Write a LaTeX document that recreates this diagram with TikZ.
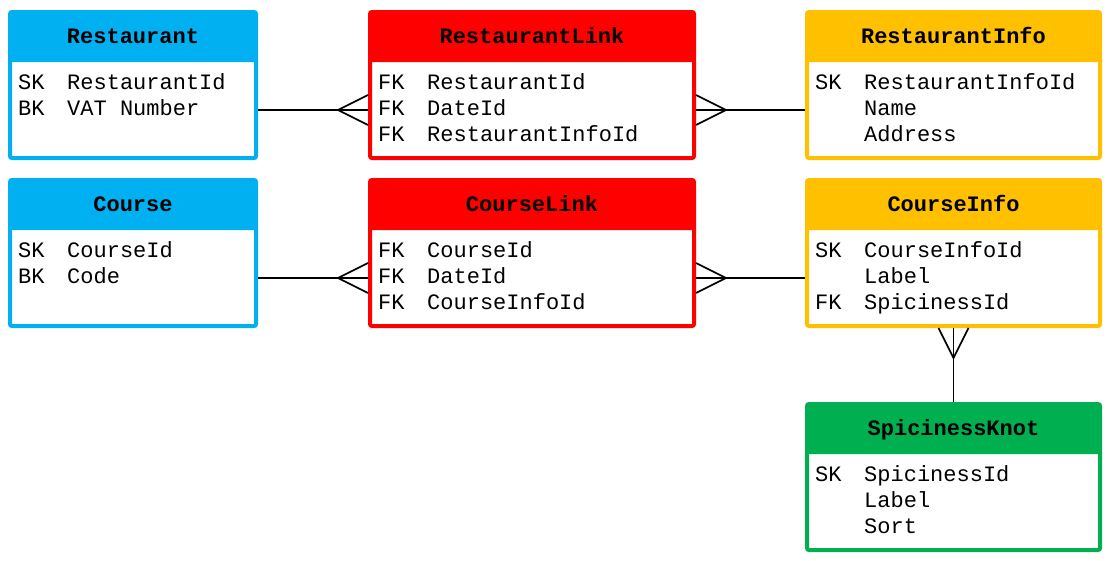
\documentclass[tikz,border=0pt]{standalone}
\usepackage{fontspec}
\setmonofont{Liberation Mono}
\definecolor{cblue}{HTML}{00B0F0}
\definecolor{cred}{HTML}{FF0000}
\definecolor{corange}{HTML}{FFC000}
\definecolor{cgreen}{HTML}{00B050}
\tikzset{
  ebox/.style={draw=#1, line width=4pt, rounded corners=2pt, fill=white,
    minimum height=146pt, inner sep=0pt},
  etitle/.style={font=\ttfamily\bfseries\fontsize{22}{22}\selectfont, anchor=base, inner sep=0pt},
  ekey/.style={font=\ttfamily\fontsize{22}{22}\selectfont, anchor=base west, inner sep=0pt},
  conn/.style={line width=1.6pt, black},
}
\newcommand\entity[6]{% name, colour, center x, center y, width, title
  \node[ebox=#2, minimum width=#5pt] (#1) at (#3,#4) {};
  \fill[#2, rounded corners=2pt] ([xshift=2pt,yshift=-2pt]#1.north west) rectangle ([xshift=-2pt,yshift=-52pt]#1.north east);
  \node[etitle] (#1-t) at ([yshift=-33pt]#1.north) {#6};
}
\newcommand\fld[4]{%
  \node[ekey] (#1-k#2) at ([xshift=10pt,yshift={-79pt-26pt*(#2-1)}]#1.north west) {#3};
  \node[ekey] (#1-n#2) at ([xshift=59pt,yshift={-79pt-26pt*(#2-1)}]#1.north west) {#4};
}
\begin{document}
\begin{tikzpicture}[x=1pt,y=-1pt]
\useasboundingbox[fill=white] (0,0) rectangle (1108,560);

\entity{Restaurant}{cblue}{133}{85}{246}{Restaurant}
\fld{Restaurant}{1}{SK}{RestaurantId}
\fld{Restaurant}{2}{BK}{VAT Number}

\entity{RLink}{cred}{532}{85}{324}{RestaurantLink}
\fld{RLink}{1}{FK}{RestaurantId}
\fld{RLink}{2}{FK}{DateId}
\fld{RLink}{3}{FK}{RestaurantInfoId}

\entity{RInfo}{corange}{953.5}{85}{293}{RestaurantInfo}
\fld{RInfo}{1}{SK}{RestaurantInfoId}
\fld{RInfo}{2}{}{Name}
\fld{RInfo}{3}{}{Address}

\entity{Course}{cblue}{133}{253}{246}{Course}
\fld{Course}{1}{SK}{CourseId}
\fld{Course}{2}{BK}{Code}

\entity{CLink}{cred}{532}{253}{324}{CourseLink}
\fld{CLink}{1}{FK}{CourseId}
\fld{CLink}{2}{FK}{DateId}
\fld{CLink}{3}{FK}{CourseInfoId}

\entity{CInfo}{corange}{953.5}{253}{293}{CourseInfo}
\fld{CInfo}{1}{SK}{CourseInfoId}
\fld{CInfo}{2}{}{Label}
\fld{CInfo}{3}{FK}{SpicinessId}

\entity{Knot}{cgreen}{953.5}{477}{293}{SpicinessKnot}
\fld{Knot}{1}{SK}{SpicinessId}
\fld{Knot}{2}{}{Label}
\fld{Knot}{3}{}{Sort}

% connectors
\foreach \a/\b in {Restaurant/RLink, Course/CLink}{
  \draw[conn] ([yshift=-25pt]\a.east) -- ([yshift=-25pt]\b.west);
  \draw[conn] ([yshift=-10pt]\b.west) -- ([xshift=-30pt,yshift=-25pt]\b.west) -- ([yshift=-40pt]\b.west);
}
\foreach \a/\b in {RLink/RInfo, CLink/CInfo}{
  \draw[conn] ([yshift=-25pt]\a.east) -- ([yshift=-25pt]\b.west);
  \draw[conn] ([yshift=-10pt]\a.east) -- ([xshift=30pt,yshift=-25pt]\a.east) -- ([yshift=-40pt]\a.east);
}
\draw[conn] (CInfo.south) -- (Knot.north);
\draw[conn] ([xshift=-15pt]CInfo.south) -- ([yshift=-30pt]CInfo.south) -- ([xshift=15pt]CInfo.south);
\end{tikzpicture}
\end{document}
